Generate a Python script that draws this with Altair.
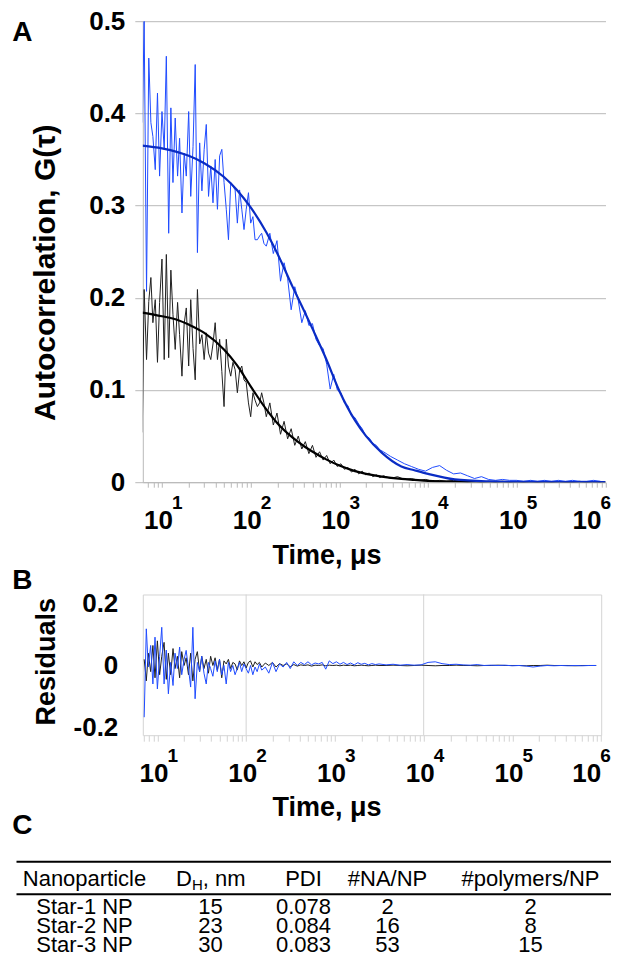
import altair as alt
import pandas as pd

# ---------------- data ----------------
# correlator lag times (microseconds) shared by the measured curves
lag_us = [6, 6.3, 6.7, 7.1, 7.5, 7.9, 8.4, 8.9, 9.4,
          10, 10.6, 11.2, 11.9, 12.6, 13.3, 14.1, 15, 15.8, 16.8, 17.8, 18.8,
          20, 21.1, 22.4, 23.7, 25.1, 26.6, 28.2, 29.9,
          31.6, 33.5, 35.5, 37.6, 39.8, 42.2, 44.7, 47.3,
          50.1, 53.1, 56.2, 59.6, 63.1, 66.8, 70.8, 75, 79.4, 84.1, 89.1, 94.4,
          100, 106, 112, 119, 126, 133, 141, 150,
          164.5, 180, 198, 217, 238, 261, 286, 314, 344, 377,
          413, 453, 497, 545, 598, 656, 719, 788, 864, 948,
          1040, 1140, 1250, 1370, 1500, 1650, 1810, 1980, 2170, 2380,
          2610, 2860, 3140,
          3770, 4520, 5420, 6500, 7800, 9350, 11200, 13500, 16100, 19400,
          23200, 27800, 33400, 40000, 48000, 57600, 69000, 82800, 99300, 119000,
          143000, 171000, 205000, 246000, 295000, 354000, 424000, 509000, 610000, 732000,
          878000]

# blue measured autocorrelation
blue_g = [0.390, 0.500, 0.207, 0.460, 0.390, 0.375, 0.339, 0.422, 0.332,
          0.402, 0.361, 0.462, 0.270, 0.406, 0.325, 0.395, 0.332, 0.373, 0.292, 0.357, 0.332,
          0.402, 0.310, 0.364, 0.453, 0.249, 0.368, 0.316, 0.361,
          0.388, 0.310, 0.343, 0.303, 0.350, 0.296, 0.354, 0.361,
          0.325, 0.296, 0.263, 0.325, 0.321, 0.317, 0.281, 0.317, 0.296, 0.274, 0.296, 0.314,
          0.281, 0.288, 0.263, 0.263, 0.267, 0.270, 0.259, 0.256,
          0.270, 0.248, 0.262, 0.218, 0.238, 0.221, 0.187, 0.212, 0.197, 0.173,
          0.186, 0.170, 0.172, 0.155, 0.148, 0.145, 0.128, 0.101, 0.117, 0.100,
          0.097, 0.086, 0.083, 0.072, 0.070, 0.063, 0.058, 0.050, 0.048, 0.042,
          0.040, 0.035, 0.033,
          0.028, 0.024, 0.020, 0.017, 0.014, 0.012, 0.016, 0.018, 0.013, 0.009,
          0.010, 0.007, 0.004, 0.006, 0.003, 0.002, 0.003, 0.002, 0.002, 0.001,
          0.002, 0.001, 0.002, 0.001, 0.002, 0.001, 0.002, 0.001, 0.001, 0.002,
          0.001]

# black measured autocorrelation
black_g = [0.054, 0.209, 0.133, 0.196, 0.222, 0.173, 0.198, 0.130, 0.195,
           0.242, 0.133, 0.247, 0.135, 0.230, 0.182, 0.144, 0.195, 0.160, 0.115, 0.172, 0.189,
           0.126, 0.198, 0.145, 0.111, 0.209, 0.150, 0.160, 0.133,
           0.162, 0.140, 0.133, 0.150, 0.173, 0.133, 0.155, 0.120,
           0.082, 0.155, 0.126, 0.115, 0.130, 0.122, 0.097, 0.121, 0.126, 0.111, 0.108, 0.086,
           0.071, 0.097, 0.089, 0.082, 0.086, 0.097, 0.086, 0.071,
           0.086, 0.062, 0.075, 0.052, 0.066, 0.047, 0.058, 0.040, 0.050, 0.036,
           0.044, 0.031, 0.040, 0.027, 0.033, 0.024, 0.029, 0.020, 0.024, 0.017,
           0.020, 0.014, 0.016, 0.011, 0.014, 0.009, 0.012, 0.008, 0.010, 0.006,
           0.008, 0.005, 0.007,
           0.004, 0.006, 0.003, 0.004, 0.002, 0.003, 0.001, 0.002, 0.001, 0.002,
           0.001, 0.000, 0.001, 0.000, 0.001, 0.000, 0.001, 0.000, 0.001, 0.000,
           0.001, 0.000, 0.001, 0.000, 0.001, 0.000, 0.000, 0.001, 0.000, 0.001,
           0.000]

# fitted curves
fit_t = [6, 10, 15, 20, 30, 50, 70, 100, 150, 200, 300, 400, 500, 700,
         1000, 1500, 2000, 3000, 5000, 7000, 10000, 20000, 50000, 100000, 1000000]
blue_fit = [0.365, 0.362, 0.358, 0.354, 0.346, 0.331, 0.317, 0.298, 0.271, 0.248,
            0.211, 0.186, 0.166, 0.135, 0.099, 0.067, 0.050, 0.032, 0.017, 0.013,
            0.009, 0.003, 0.0008, 0.0003, 0.0]
black_fit = [0.184, 0.180, 0.176, 0.171, 0.162, 0.144, 0.127, 0.104, 0.079, 0.064,
             0.048, 0.039, 0.033, 0.025, 0.018, 0.012, 0.009, 0.006, 0.0035, 0.0025,
             0.0015, 0.0006, 0.0002, 0.0001, 0.0]

# residuals (panel B), at lag_us[3:]
res_t = lag_us[3:]
blue_res = [-0.168, 0.119, -0.005, 0.065, -0.060, 0.092,
            -0.076, 0.030, 0.124, -0.060, 0.050, -0.092, 0.010, -0.065, 0.040, -0.010, 0.060, -0.030,
            0.020, 0.049, -0.010, -0.070, 0.124, -0.108, 0.010, -0.020,
            0.030, -0.025, -0.060, 0.010, -0.010, -0.035, 0.015, -0.020,
            0.020, -0.030, 0.000, -0.060, 0.010, -0.020, 0.000, -0.030, -0.010, 0.010, -0.020, 0.005,
            -0.010, -0.025, 0.000, -0.030, -0.005, -0.020, 0.005, -0.015,
            -0.005, -0.025, 0.010, -0.020, 0.005, -0.005, 0.010, -0.010, 0.012, 0.000,
            0.010, 0.003, 0.012, 0.002, 0.008, 0.005, 0.010, -0.012, 0.015, 0.006,
            0.012, 0.004, 0.010, 0.003, 0.008, 0.002, 0.009, 0.004, 0.007, 0.002,
            0.006, 0.003, 0.005,
            0.002, 0.004, 0.001, 0.003, 0.001, 0.002, 0.010, 0.012, 0.006, 0.003,
            0.004, 0.002, 0.001, 0.003, 0.000, 0.001, 0.000, 0.001, -0.001, 0.000,
            -0.002, -0.005, -0.002, 0.000, -0.001, 0.000, -0.001, 0.000, -0.001, 0.000,
            0.000]
black_res = [0.020, -0.050, 0.040, -0.020, 0.065, -0.040,
             0.080, -0.030, 0.030, 0.075, -0.045, 0.040, -0.030, 0.055, -0.010, 0.030, -0.040, 0.045,
             0.000, 0.025, -0.030, 0.040, -0.050, 0.020, 0.045, -0.020,
             0.030, -0.010, 0.020, -0.025, 0.030, 0.000, 0.025, -0.015,
             0.020, -0.040, 0.015, 0.005, 0.020, -0.010, 0.010, 0.005, -0.015, 0.015, 0.000, 0.012,
             -0.008, 0.010, 0.015, -0.005, 0.012, 0.003, 0.010, -0.005,
             0.008, 0.000, 0.010, -0.005, 0.006, 0.000, 0.005, -0.004, 0.003, -0.002,
             0.002, 0.000, 0.002, -0.002, 0.001, 0.000, 0.002, -0.001, 0.001, 0.000,
             0.001, -0.001, 0.001, 0.000, 0.001, -0.001, 0.000, 0.001, 0.000, -0.001,
             0.000, 0.001, 0.000,
             0.000, 0.001, 0.000, -0.001, 0.000, 0.001, 0.000, -0.001, 0.000, 0.000,
             0.001, 0.000, 0.000, -0.001, 0.000, 0.000, 0.001, 0.000, 0.000, 0.000,
             -0.001, 0.000, 0.000, 0.001, 0.000, 0.000, 0.000, -0.001, 0.000, 0.000,
             0.000]

decades = [10, 100, 1000, 10000, 100000, 1000000]
decade_exp = ["1", "2", "3", "4", "5", "6"]
b_grid_t = [100, 10000]
a_yticks = [0, 0.1, 0.2, 0.3, 0.4, 0.5]
b_yticks = [-0.2, 0, 0.2]

table_cols = ["Nanoparticle", "D_H, nm", "PDI", "#NA/NP", "#polymers/NP"]
particles = ["Star-1 NP", "Star-2 NP", "Star-3 NP"]
dh_nm = [15, 23, 30]
pdi = [0.078, 0.084, 0.083]
na_per_np = [2, 16, 53]
polymers_per_np = [2, 8, 15]

# ---------------- style / layout ----------------
FONT = "Liberation Sans"
BLUE_DATA = "#1f4bff"
BLUE_FIT = "#0a2cc4"
BLACK_DATA = "#202020"
GRID_A = "#b9b9b9"
GRID_B = "#d4d4d4"

A_W, A_H = 462.7, 461.0
B_W, B_H = 458.4, 140.7
C_W, C_H = 458.4, 104.0
GAP = 112.3

xA = alt.Scale(type="log", domain=[6.08, 1e6], nice=False)
yA = alt.Scale(domain=[0, 0.5], nice=False, zero=False)
xB = alt.Scale(type="log", domain=[6.85, 1e6], nice=False)
yB = alt.Scale(domain=[-0.2263, 0.2305], nice=False, zero=False)


def minor_ticks(lo):
    return [m * 10 ** e for e in range(0, 7) for m in range(1, 10) if lo <= m * 10 ** e <= 1e6]


LBL = "datum.value == 0 ? '0' : (datum.value < 0 ? '-' : '') + format(abs(datum.value), '.1f')"
TITLE_STYLE = dict(titleFont=FONT, titleFontWeight="bold", titleColor="black",
                   titleAlign="center", titleBaseline="alphabetic")
LABEL_STYLE = dict(labelFont=FONT, labelFontSize=26, labelFontWeight="bold", labelColor="black")

axA_x = alt.Axis(values=minor_ticks(6.08), labels=False, tickSize=5, tickColor=GRID_A,
                 domainColor=GRID_A, grid=False, title="Time, μs", titleFontSize=27,
                 titleX=183.7, titleY=81.3, **TITLE_STYLE)
axA_y = alt.Axis(values=a_yticks, labelExpr=LBL, labelPadding=10, tickSize=8, tickColor=GRID_A,
                 domainColor=GRID_A, grid=True, gridColor=GRID_A,
                 title="Autocorrelation, G(τ)", titleFontSize=30, titleX=-88.3, titleY=251,
                 **LABEL_STYLE, **TITLE_STYLE)
axB_x = alt.Axis(values=minor_ticks(6.85), labels=False, tickSize=6, tickColor=GRID_B,
                 domain=False, grid=False, title="Time, μs", titleFontSize=27,
                 titleX=183.7, titleY=80.3, **TITLE_STYLE)
axB_y = alt.Axis(values=b_yticks, labelExpr=LBL, labelPadding=25, ticks=False, tickSize=0,
                 domain=False, grid=False, title="Residuals", titleFontSize=27,
                 titleX=-88.3, titleY=66.7, **LABEL_STYLE, **TITLE_STYLE)


def XA():
    return alt.X("t:Q", scale=xA, axis=axA_x)


def YA():
    return alt.Y("g:Q", scale=yA, axis=axA_y)


def XB():
    return alt.X("t:Q", scale=xB, axis=axB_x)


def YB():
    return alt.Y("r:Q", scale=yB, axis=axB_y)


def letter(s, x, y):
    return alt.Chart(pd.DataFrame({"s": [s]})).mark_text(
        font=FONT, fontSize=28, fontWeight="bold", align="left", baseline="alphabetic",
        color="black").encode(x=alt.value(x), y=alt.value(y), text="s:N")


def anchor(x, y):
    # invisible 1px rule that pins the outer bounds of the figure
    return alt.Chart(pd.DataFrame({"k": [0]})).mark_rule(opacity=0, strokeWidth=1).encode(
        x=alt.value(x), x2=alt.value(x + 1), y=alt.value(y))


dec_df = pd.DataFrame({"t": decades, "base": ["10"] * len(decades), "exp": decade_exp})


def tick_labels(X, h, last_shift):
    layers = []
    for part, shift in ((dec_df.iloc[:-1], 0), (dec_df.iloc[-1:], last_shift)):
        layers.append(alt.Chart(part).mark_text(
            font=FONT, fontSize=26, fontWeight="bold", align="right", baseline="alphabetic",
            dx=11 + shift, color="black").encode(x=X(), y=alt.value(h + 46.6), text="base:N"))
        layers.append(alt.Chart(part).mark_text(
            font=FONT, fontSize=19, fontWeight="bold", align="left", baseline="alphabetic",
            dx=10 + shift, color="black").encode(x=X(), y=alt.value(h + 27.3), text="exp:N"))
    return layers


# ---------------- panel A ----------------
a_black = alt.Chart(pd.DataFrame({"t": lag_us, "g": black_g})).mark_line(
    color=BLACK_DATA, strokeWidth=1, clip=True).encode(x=XA(), y=YA())
a_black_fit = alt.Chart(pd.DataFrame({"t": fit_t, "g": black_fit})).mark_line(
    color="black", strokeWidth=2.2, interpolate="monotone", clip=True).encode(x=XA(), y=YA())
a_blue = alt.Chart(pd.DataFrame({"t": lag_us, "g": blue_g})).mark_line(
    color=BLUE_DATA, strokeWidth=1, clip=True).encode(x=XA(), y=YA())
a_blue_fit = alt.Chart(pd.DataFrame({"t": fit_t, "g": blue_fit})).mark_line(
    color=BLUE_FIT, strokeWidth=2.2, interpolate="monotone", clip=True).encode(x=XA(), y=YA())

panel_a = alt.layer(a_black, a_black_fit, a_blue, a_blue_fit, *tick_labels(XA, A_H, -15),
                    letter("A", -130.6, 20), anchor(-140, -60), anchor(520, 0)
                    ).properties(width=A_W, height=A_H)

# ---------------- panel B ----------------
b_grid = alt.Chart(pd.DataFrame({"t": b_grid_t})).mark_rule(
    color=GRID_B, strokeWidth=1).encode(x=XB())
b_black = alt.Chart(pd.DataFrame({"t": res_t, "r": black_res})).mark_line(
    color=BLACK_DATA, strokeWidth=1, clip=True).encode(x=XB(), y=YB())
b_blue = alt.Chart(pd.DataFrame({"t": res_t, "r": blue_res})).mark_line(
    color=BLUE_DATA, strokeWidth=1, clip=True).encode(x=XB(), y=YB())

panel_b = alt.layer(b_grid, b_black, b_blue, *tick_labels(XB, B_H, -11),
                    letter("B", -130.6, -5)).properties(
    width=B_W, height=B_H, view=alt.ViewBackground(stroke=GRID_B, strokeWidth=1))

# ---------------- panel C (table) ----------------
cells = []
for ci, name in enumerate(table_cols):
    if ci != 1:
        cells.append({"ci": ci, "ri": 0, "txt": name})
for ri, p in enumerate(particles):
    vals = [p, str(dh_nm[ri]), f"{pdi[ri]:.3f}", str(na_per_np[ri]), str(polymers_per_np[ri])]
    for ci, v in enumerate(vals):
        cells.append({"ci": ci, "ri": ri + 1, "txt": v})
cells_df = pd.DataFrame(cells)

col_scale = alt.Scale(domain=[0, 1, 2, 3, 4], range=[-58.3, 67.7, 160.7, 244.7, 387.7],
                      nice=False, zero=False)
row_scale = alt.Scale(domain=[0, 1, 2, 3], range=[31, 59, 78, 97], nice=False, zero=False)
TFS = 22


def XC():
    return alt.X("ci:Q", scale=col_scale, axis=None)


def YC():
    return alt.Y("ri:Q", scale=row_scale, axis=None)


c_text = alt.Chart(cells_df).mark_text(font=FONT, fontSize=TFS, align="center",
                                       baseline="middle", color="black").encode(
    x=XC(), y=YC(), text="txt:N")
dh_df = pd.DataFrame({"ci": [1], "ri": [0], "d": ["D"], "h": ["H"], "u": [", nm"]})
c_d = alt.Chart(dh_df).mark_text(font=FONT, fontSize=TFS, align="right", baseline="middle",
                                 dx=-18.6, color="black").encode(x=XC(), y=YC(), text="d:N")
c_h = alt.Chart(dh_df).mark_text(font=FONT, fontSize=15, align="left", baseline="middle",
                                 dx=-18.6, dy=6, color="black").encode(x=XC(), y=YC(), text="h:N")
c_u = alt.Chart(dh_df).mark_text(font=FONT, fontSize=TFS, align="left", baseline="middle",
                                 dx=-7.8, color="black").encode(x=XC(), y=YC(), text="u:N")
rule_df = pd.DataFrame({"k": [0]})
c_rule_top = alt.Chart(rule_df).mark_rule(color="black", strokeWidth=2).encode(
    x=alt.value(-126.3), x2=alt.value(468.7), y=alt.value(14))
c_rule_mid = alt.Chart(rule_df).mark_rule(color="black", strokeWidth=2).encode(
    x=alt.value(-126.3), x2=alt.value(468.7), y=alt.value(46.5))

panel_c = alt.layer(c_rule_top, c_rule_mid, c_text, c_d, c_h, c_u,
                    letter("C", -130.6, -14), anchor(0, 150)).properties(width=C_W, height=C_H)

chart = alt.vconcat(panel_a, panel_b, panel_c, spacing=GAP, bounds="flush").properties(
    padding={"left": -5.2, "top": -46.8, "right": -52.8, "bottom": -42.5}
).configure(font=FONT).configure_view(stroke=None)

chart.save("out.html", embed_options={"renderer": "svg", "actions": False})
